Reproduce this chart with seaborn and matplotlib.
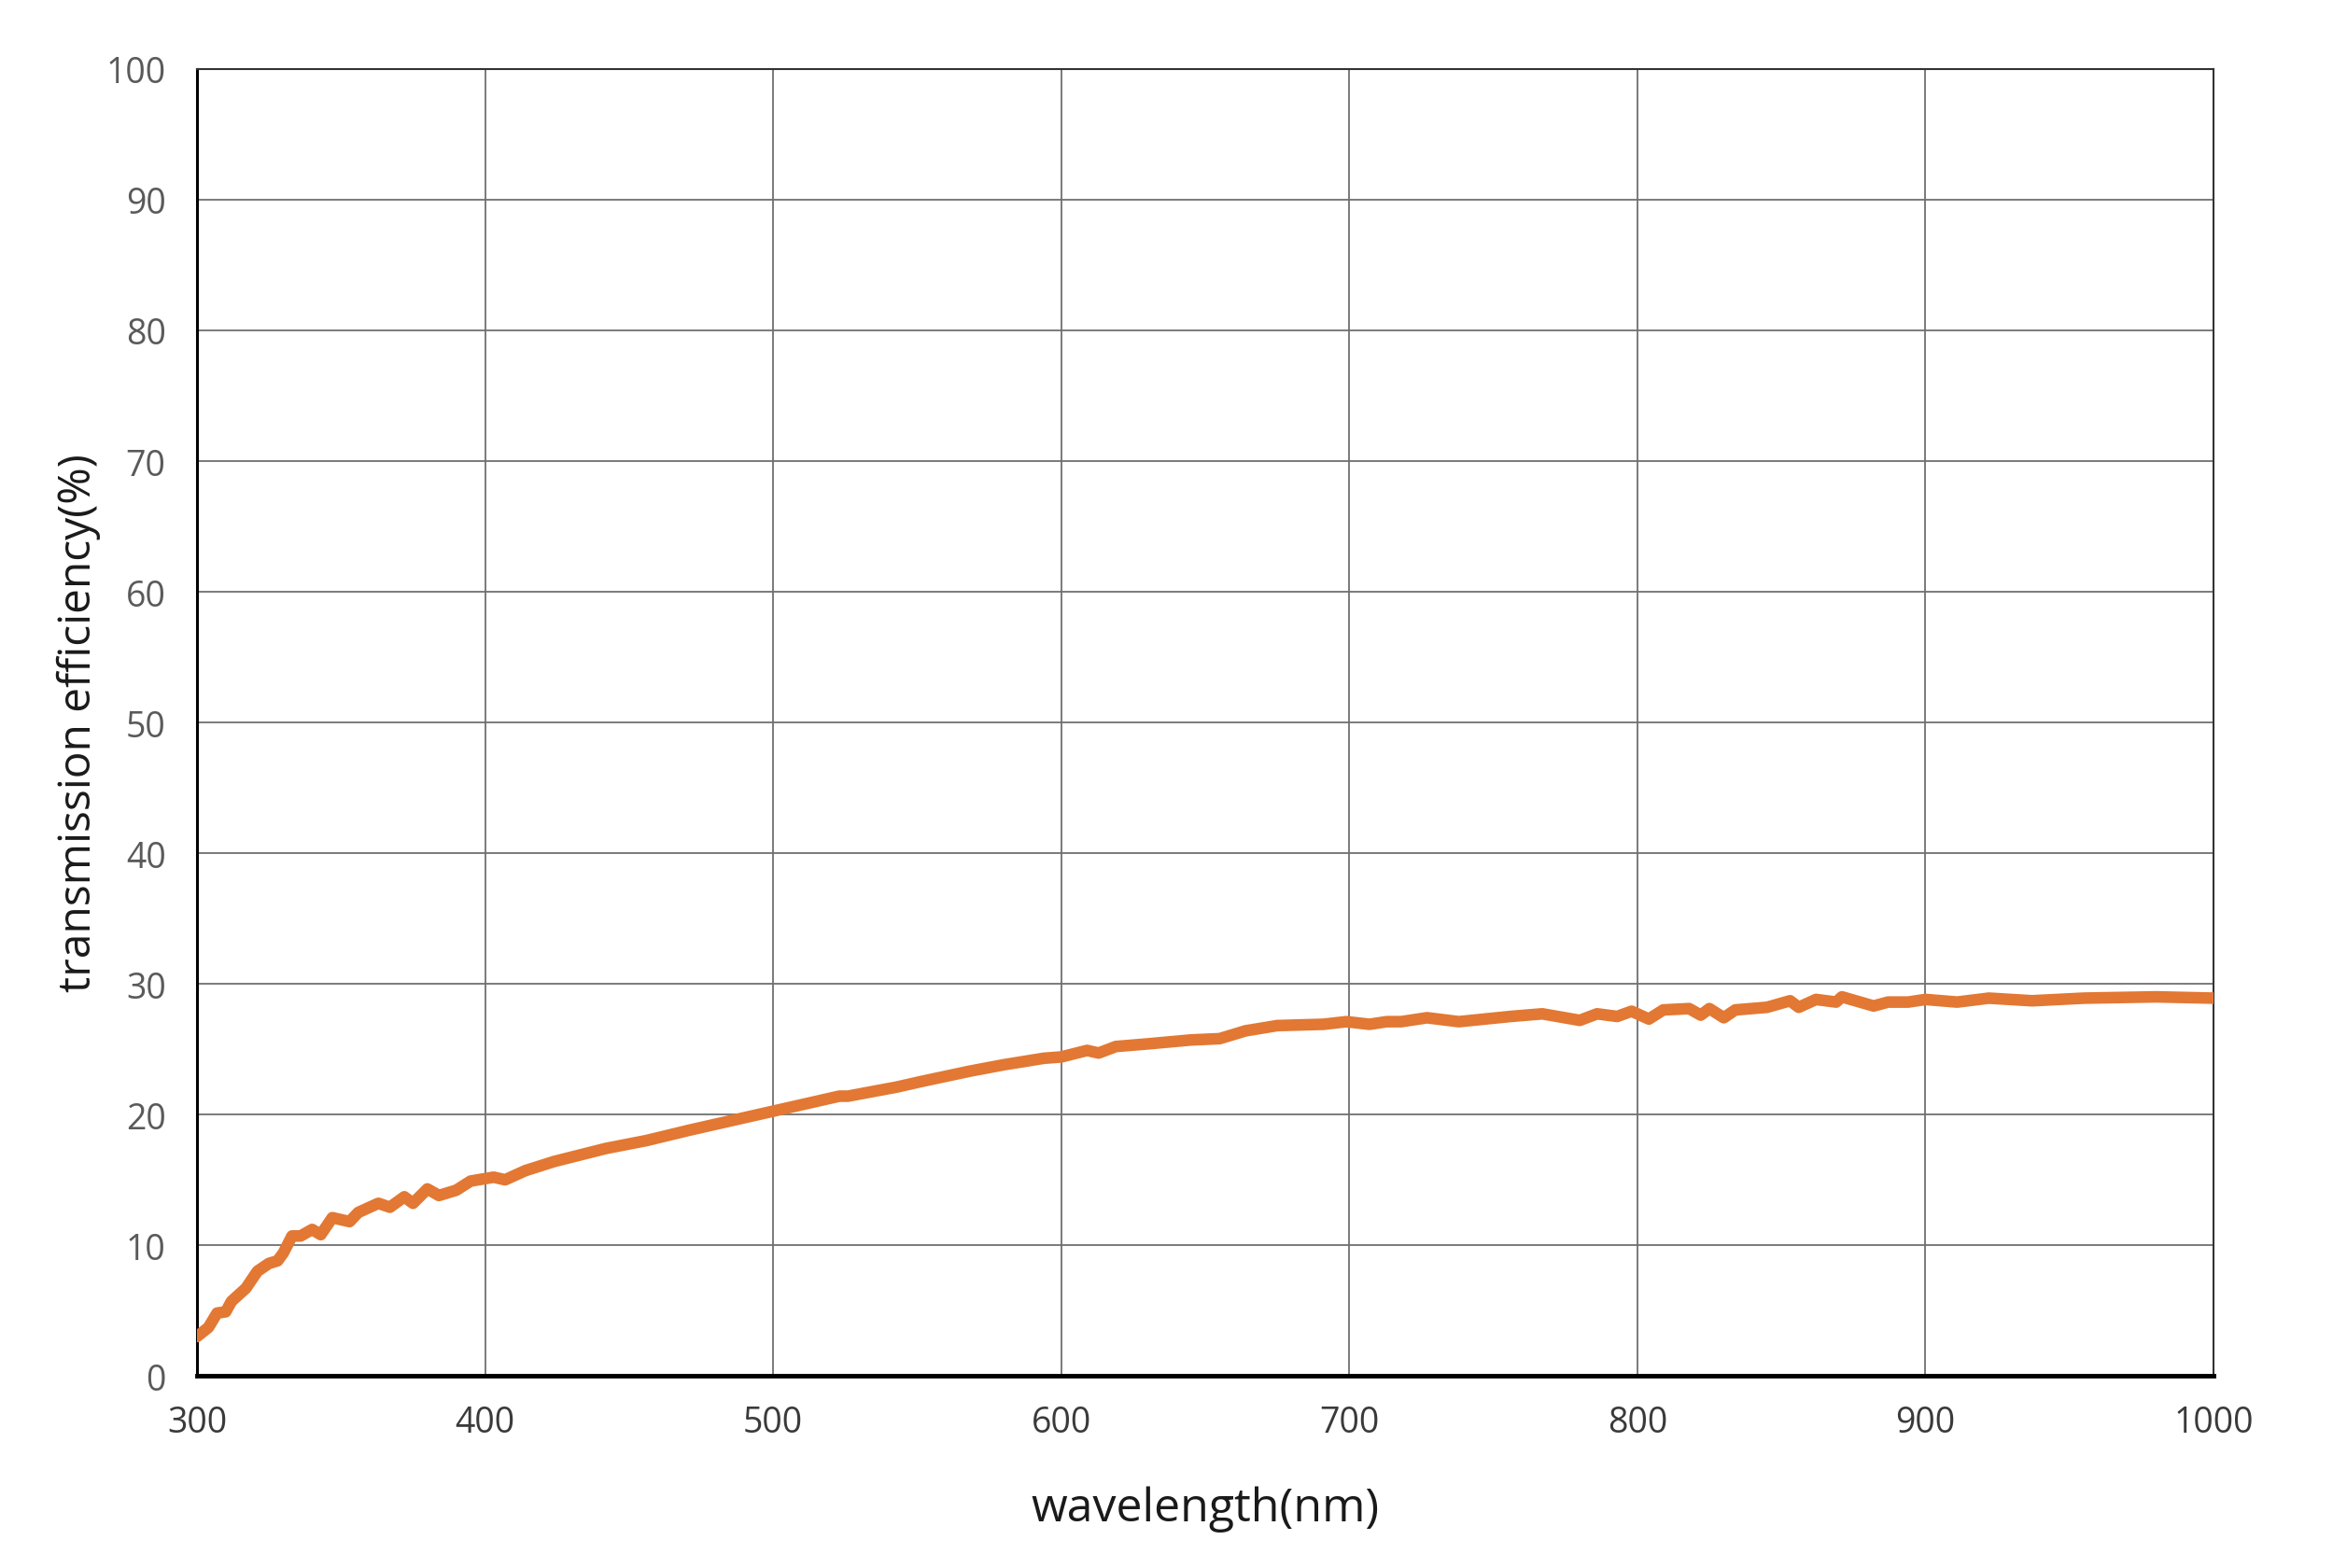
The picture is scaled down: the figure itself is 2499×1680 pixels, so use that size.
import matplotlib
matplotlib.use('Agg')
import matplotlib.pyplot as plt
import seaborn as sns
import pandas as pd

# wavelength (nm) / transmission efficiency (%)
wavelength = [300, 304, 307, 310, 312, 314, 317, 321, 325, 328, 330, 333, 336, 340,
              343, 347, 353, 356, 363, 367, 372, 375, 380, 384, 390, 395, 403, 407,
              414, 424, 433, 442, 456, 471, 485, 497, 507, 523, 526, 543, 551, 568,
              580, 594, 600, 609, 613, 619, 630, 645, 655, 664, 675, 691, 699, 707,
              713, 718, 727, 738, 756, 767, 780, 786, 793, 798, 804, 809, 818, 822,
              825, 830, 834, 845, 853, 856, 862, 869, 871, 882, 887, 894, 900, 911,
              922, 937, 955, 980, 1000]
transmission = [3.0, 3.7, 4.8, 4.9, 5.7, 6.1, 6.7, 8.0, 8.6, 8.8, 9.4, 10.7, 10.7, 11.2,
                10.8, 12.1, 11.8, 12.5, 13.2, 12.9, 13.7, 13.2, 14.3, 13.8, 14.2, 14.9, 15.2, 15.0,
                15.7, 16.4, 16.9, 17.4, 18.0, 18.8, 19.5, 20.1, 20.6, 21.4, 21.4, 22.1, 22.5, 23.3,
                23.8, 24.3, 24.4, 24.9, 24.7, 25.2, 25.4, 25.7, 25.8, 26.4, 26.8, 26.9, 27.1, 26.9,
                27.1, 27.1, 27.4, 27.1, 27.5, 27.7, 27.2, 27.7, 27.5, 27.9, 27.3, 28.0, 28.1, 27.6,
                28.1, 27.4, 28.0, 28.2, 28.7, 28.2, 28.8, 28.6, 29.0, 28.3, 28.6, 28.6, 28.8, 28.6,
                28.9, 28.7, 28.9, 29.0, 28.9]
x_ticks = [300, 400, 500, 600, 700, 800, 900, 1000]
y_ticks = [0, 10, 20, 30, 40, 50, 60, 70, 80, 90, 100]

df = pd.DataFrame({'wavelength': wavelength, 'transmission': transmission})

sns.set_style('white')
plt.rcParams['font.family'] = ['Open Sans', 'DejaVu Sans']

fig = plt.figure(figsize=(24.99, 16.81), dpi=100)
ax = fig.add_axes([0.0844, 0.1225, 0.8644, 0.8329])

sns.lineplot(data=df, x='wavelength', y='transmission', ax=ax,
             color='#E27833', linewidth=9, zorder=3)

ax.set_xlim(300, 1000)
ax.set_ylim(0, 100)
ax.set_xticks(x_ticks)
ax.set_yticks(y_ticks)
ax.grid(True, color='#707070', linewidth=1.3)
ax.set_axisbelow(True)

ax.tick_params(axis='both', length=0)
ax.tick_params(axis='x', labelsize=27, labelcolor='#3a3a3a', pad=22)
ax.tick_params(axis='y', labelsize=27, labelcolor='#5a5a5a', pad=24)

for side in ['top', 'right']:
    ax.spines[side].set_color('#333333')
    ax.spines[side].set_linewidth(1.5)
ax.spines['left'].set_color('black')
ax.spines['left'].set_linewidth(2.2)
ax.spines['bottom'].set_color('black')
ax.spines['bottom'].set_linewidth(3.5)

ax.set_xlabel('wavelength(nm)', fontsize=36, color='#1a1a1a', labelpad=35)
ax.set_ylabel('transmission efficiency(%)', fontsize=34.5, color='#1a1a1a', labelpad=4)

fig.savefig('out.png', dpi=100)
